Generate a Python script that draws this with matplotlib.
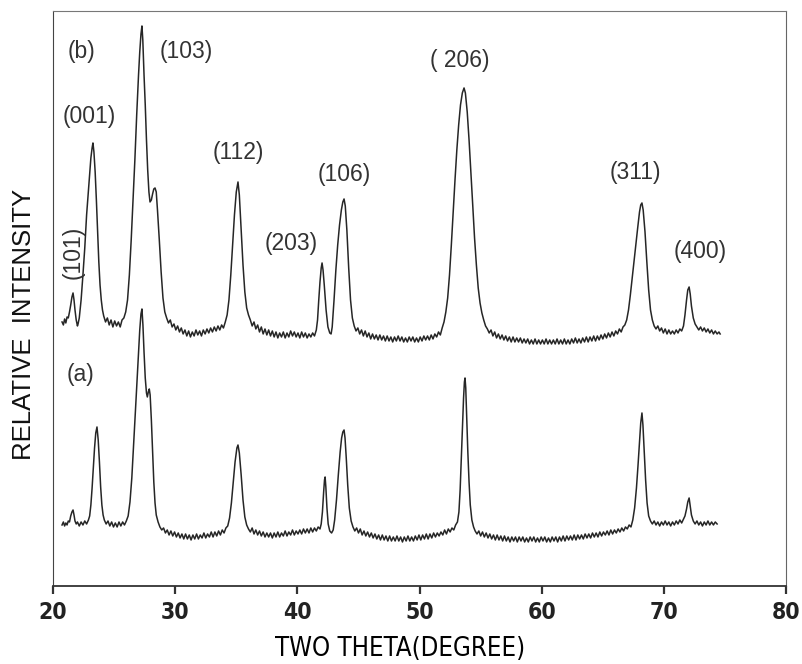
"""XRD patterns (a) and (b) - relative intensity vs two theta."""
import matplotlib
matplotlib.use("Agg")
import matplotlib.pyplot as plt

# ── data (intensity in arbitrary units) ───────────────────────────────────────
tt_b = [20.74, 20.85, 20.95, 21.05, 21.15, 21.25, 21.35, 21.45, 21.55, 21.64, 21.72, 21.8, 21.9, 22.0, 22.05,
        22.15, 22.3, 22.45, 22.6, 22.75, 22.9, 23.0, 23.1, 23.2, 23.27, 23.35, 23.45, 23.55, 23.65, 23.75, 23.85,
        23.95, 24.05, 24.15, 24.3, 24.45, 24.6, 24.75, 24.9, 25.05, 25.2, 25.35, 25.5, 25.65, 25.8, 25.95,
        26.1, 26.25, 26.4, 26.55, 26.7, 26.85, 27.0, 27.1, 27.2, 27.28, 27.35, 27.45, 27.55, 27.65, 27.75,
        27.85, 27.94, 28.05, 28.15, 28.25, 28.35, 28.45, 28.55, 28.7, 28.85, 29.0, 29.15, 29.3,
        29.45, 29.6, 29.75, 29.9, 30.05, 30.2, 30.35, 30.5, 30.65, 30.8, 30.95, 31.1, 31.25, 31.4, 31.55, 31.7,
        31.85, 32.0, 32.15, 32.3, 32.45, 32.6, 32.75, 32.9, 33.05, 33.2, 33.35, 33.5, 33.65, 33.8, 33.95, 34.1,
        34.25, 34.4, 34.55, 34.7, 34.85, 35.0, 35.14, 35.25, 35.4, 35.55, 35.7, 35.85, 36.0,
        36.15, 36.3, 36.45, 36.6, 36.75, 36.9, 37.05, 37.2, 37.35, 37.5, 37.65, 37.8, 37.95, 38.1, 38.25, 38.4,
        38.55, 38.7, 38.85, 39.0, 39.15, 39.3, 39.45, 39.6, 39.75, 39.9, 40.05, 40.2, 40.35, 40.5, 40.65, 40.8,
        40.95, 41.1, 41.25, 41.4, 41.55, 41.65, 41.75, 41.85, 41.95, 42.02, 42.1, 42.2, 42.35, 42.5, 42.65,
        42.76, 42.85, 43.0, 43.15, 43.3, 43.45, 43.6, 43.72, 43.82, 43.92, 44.05, 44.2, 44.35, 44.5, 44.65,
        44.8, 44.95, 45.1, 45.25, 45.4, 45.55, 45.7, 45.85, 46.0, 46.15, 46.3, 46.45, 46.6, 46.75, 46.9, 47.05,
        47.2, 47.35, 47.5, 47.65, 47.8, 47.95, 48.1, 48.25, 48.4, 48.55, 48.7, 48.85, 49.0, 49.15, 49.3, 49.45,
        49.6, 49.75, 49.9, 50.05, 50.2, 50.35, 50.5, 50.65, 50.8, 50.95, 51.1, 51.25, 51.4, 51.55, 51.7, 51.85,
        52.0, 52.15, 52.3, 52.45, 52.6, 52.75, 52.9, 53.05, 53.2, 53.35, 53.5, 53.64, 53.75, 53.9, 54.05, 54.2,
        54.35, 54.5, 54.65, 54.8, 54.95, 55.1, 55.25, 55.4, 55.55,
        55.7, 55.85, 56.0, 56.15, 56.3, 56.45, 56.6, 56.75, 56.9, 57.05, 57.2, 57.35, 57.5, 57.65, 57.8, 57.95,
        58.1, 58.25, 58.4, 58.55, 58.7, 58.85, 59.0, 59.15, 59.3, 59.45, 59.6, 59.75, 59.9, 60.05, 60.2, 60.35,
        60.5, 60.65, 60.8, 60.95, 61.1, 61.25, 61.4, 61.55, 61.7, 61.85, 62.0, 62.15, 62.3, 62.45, 62.6, 62.75,
        62.9, 63.05, 63.2, 63.35, 63.5, 63.65, 63.8, 63.95, 64.1, 64.25, 64.4, 64.55, 64.7, 64.85, 65.0, 65.15,
        65.3, 65.45, 65.6, 65.75, 65.9, 66.05, 66.2, 66.35, 66.5, 66.65, 66.8, 66.95, 67.1, 67.25, 67.4, 67.55,
        67.7, 67.85, 68.0, 68.1, 68.2, 68.3, 68.45, 68.6, 68.75, 68.9, 69.05, 69.2, 69.35, 69.5, 69.65, 69.8,
        69.95, 70.1, 70.25, 70.4, 70.55, 70.7, 70.85, 71.0, 71.15, 71.3, 71.45, 71.6, 71.72, 71.85, 71.95, 72.06,
        72.15, 72.25, 72.4, 72.55, 72.7, 72.85, 73.0, 73.15, 73.3, 73.45, 73.6, 73.75, 73.9, 74.05, 74.2, 74.35,
        74.5, 74.6]
int_b = [264, 261, 267, 263, 269, 268, 274, 281, 289, 293, 286, 276, 266, 260, 262,
         268, 286, 311, 338, 371, 396, 414, 428, 438, 443, 434, 414, 386, 354, 324, 301,
         286, 276, 270, 264, 268, 261, 266, 259, 265, 260, 264, 259, 266, 268, 274,
         286, 311, 346, 386, 426, 471, 511, 534, 552, 560, 546, 511, 481, 446, 416,
         394, 384, 386, 392, 397, 398, 394, 376, 346, 314, 288, 274, 268,
         263, 266, 259, 262, 256, 260, 254, 258, 252, 256, 250, 255, 249, 254, 250, 256,
         251, 255, 250, 256, 252, 257, 253, 258, 254, 259, 255, 260, 256, 261, 258, 264,
         271, 286, 311, 341, 371, 394, 404, 391, 356, 321, 294, 278, 271,
         266, 260, 264, 257, 261, 254, 259, 252, 257, 251, 256, 250, 255, 249, 254, 248,
         253, 249, 254, 248, 253, 249, 255, 250, 254, 249, 253, 248, 254, 249, 253, 248,
         252, 249, 253, 250, 256, 266, 286, 304, 318, 323, 316, 301, 276, 259, 253,
         252, 259, 286, 316, 341, 361, 376, 384, 387, 380, 356, 318, 286, 268, 260,
         255, 258, 252, 256, 250, 255, 249, 253, 247, 252, 247, 251, 246, 251, 246, 250,
         245, 250, 245, 249, 244, 249, 245, 250, 245, 249, 244, 248, 244, 249, 245, 249,
         244, 248, 244, 249, 245, 250, 246, 250, 246, 251, 247, 252, 249, 254, 251, 258,
         264, 274, 288, 311, 341, 374, 406, 436, 461, 481, 493, 498, 493, 474, 446, 414,
         381, 348, 321, 298, 283, 273, 266, 260, 257,
         253, 256, 250, 254, 248, 252, 247, 251, 246, 250, 245, 249, 244, 249, 244, 248,
         244, 248, 243, 247, 243, 247, 242, 246, 242, 247, 242, 246, 242, 246, 242, 247,
         242, 246, 242, 246, 242, 247, 242, 246, 242, 247, 242, 246, 242, 247, 243, 248,
         243, 247, 243, 248, 244, 249, 244, 249, 245, 250, 245, 250, 246, 251, 247, 252,
         248, 253, 249, 254, 250, 255, 252, 257, 254, 259, 261, 266, 276, 291, 308, 324,
         341, 358, 374, 381, 383, 376, 354, 324, 296, 276, 266, 260, 257, 260, 255, 258,
         253, 257, 252, 256, 252, 255, 252, 256, 253, 257, 255, 260, 271, 286, 296, 299,
         292, 280, 268, 262, 259, 256, 259, 255, 258, 254, 257, 253, 256, 252, 255, 252,
         254, 252]

tt_a = [20.74, 20.85, 20.95, 21.05, 21.15, 21.25, 21.35, 21.45, 21.55, 21.64, 21.72, 21.8, 21.9, 22.0, 22.15,
        22.3, 22.45, 22.6, 22.75, 22.9, 23.0, 23.1, 23.2, 23.3, 23.4, 23.5, 23.6, 23.7, 23.8, 23.9, 24.0, 24.1,
        24.2, 24.35, 24.5, 24.65, 24.8, 24.95, 25.1, 25.25, 25.4, 25.55, 25.7, 25.85, 26.0, 26.15, 26.3, 26.45,
        26.6, 26.75, 26.9, 27.0, 27.1, 27.2, 27.28, 27.36, 27.45, 27.55, 27.65, 27.72, 27.8, 27.88, 27.95, 28.05,
        28.15, 28.25, 28.35, 28.45, 28.6, 28.75,
        28.9, 29.05, 29.2, 29.35, 29.5, 29.65, 29.8, 29.95, 30.1, 30.25, 30.4, 30.55, 30.7, 30.85, 31.0, 31.15,
        31.3, 31.45, 31.6, 31.75, 31.9, 32.05, 32.2, 32.35, 32.5, 32.65, 32.8, 32.95, 33.1, 33.25, 33.4, 33.55,
        33.7, 33.85, 34.0, 34.15, 34.3, 34.45, 34.6, 34.75, 34.9, 35.05, 35.14, 35.25, 35.4, 35.55, 35.7, 35.85,
        36.0, 36.15, 36.3, 36.45, 36.6, 36.75, 36.9, 37.05, 37.2, 37.35, 37.5, 37.65, 37.8, 37.95, 38.1, 38.25,
        38.4, 38.55, 38.7, 38.85, 39.0, 39.15, 39.3, 39.45, 39.6, 39.75, 39.9, 40.05, 40.2, 40.35, 40.5, 40.65,
        40.8, 40.95, 41.1, 41.25, 41.4, 41.55, 41.7, 41.85, 41.95, 42.05, 42.15, 42.22, 42.27, 42.33, 42.42,
        42.52, 42.65, 42.8, 42.93, 43.05, 43.2, 43.35, 43.5, 43.62, 43.72, 43.82, 43.9, 44.0, 44.12, 44.25, 44.4,
        44.55, 44.7, 44.85, 45.0, 45.15, 45.3, 45.45, 45.6, 45.75, 45.9, 46.05, 46.2, 46.35, 46.5, 46.65, 46.8,
        46.95, 47.1, 47.25, 47.4, 47.55, 47.7, 47.85, 48.0, 48.15, 48.3, 48.45, 48.6, 48.75, 48.9, 49.05, 49.2,
        49.35, 49.5, 49.65, 49.8, 49.95, 50.1, 50.25, 50.4, 50.55, 50.7, 50.85, 51.0, 51.15, 51.3, 51.45, 51.6,
        51.75, 51.9, 52.05, 52.2, 52.35, 52.5, 52.65, 52.8, 52.95, 53.1, 53.22, 53.32, 53.42, 53.52, 53.6, 53.67,
        53.72, 53.78, 53.86, 53.95, 54.05, 54.15, 54.28, 54.42, 54.55,
        54.7, 54.85, 55.0, 55.15, 55.3, 55.45, 55.6, 55.75, 55.9, 56.05, 56.2, 56.35, 56.5, 56.65, 56.8, 56.95,
        57.1, 57.25, 57.4, 57.55, 57.7, 57.85, 58.0, 58.15, 58.3, 58.45, 58.6, 58.75, 58.9, 59.05, 59.2, 59.35,
        59.5, 59.65, 59.8, 59.95, 60.1, 60.25, 60.4, 60.55, 60.7, 60.85, 61.0, 61.15, 61.3, 61.45, 61.6, 61.75,
        61.9, 62.05, 62.2, 62.35, 62.5, 62.65, 62.8, 62.95, 63.1, 63.25, 63.4, 63.55, 63.7, 63.85, 64.0, 64.15,
        64.3, 64.45, 64.6, 64.75, 64.9, 65.05, 65.2, 65.35, 65.5, 65.65, 65.8, 65.95, 66.1, 66.25, 66.4, 66.55,
        66.7, 66.85, 67.0, 67.15, 67.3, 67.45, 67.6, 67.75, 67.88, 68.0, 68.1, 68.2, 68.28, 68.38, 68.5, 68.62,
        68.75, 68.9, 69.05, 69.2, 69.35, 69.5, 69.65, 69.8, 69.95, 70.1, 70.25, 70.4, 70.55, 70.7, 70.85, 71.0,
        71.15, 71.3, 71.45, 71.6, 71.72, 71.85, 71.95, 72.06, 72.15, 72.25, 72.4, 72.55, 72.7, 72.85, 73.0, 73.15,
        73.3, 73.45, 73.6, 73.75, 73.9, 74.05, 74.2, 74.35]
int_a = [61, 64, 60, 63, 61, 65, 64, 70, 74, 76, 71, 65, 62, 64, 60,
         64, 61, 65, 62, 66, 70, 81, 98, 118, 138, 153, 159, 146, 124, 99, 81, 71,
         66, 62, 65, 60, 64, 59, 63, 59, 64, 60, 64, 61, 65, 70, 84, 108,
         141, 176, 211, 236, 256, 272, 277, 261, 234, 208, 193, 189, 194, 197, 191, 166,
         134, 104, 83, 71, 64, 59,
         56, 58, 53, 56, 51, 55, 50, 54, 49, 53, 48, 52, 47, 52, 47, 51,
         46, 51, 47, 52, 47, 51, 48, 53, 48, 52, 49, 54, 49, 54, 50, 55,
         51, 56, 53, 58, 60, 68, 83, 104, 124, 138, 141, 133, 111, 86, 69, 61,
         57, 54, 58, 52, 56, 51, 55, 50, 54, 49, 53, 49, 53, 48, 53, 49,
         54, 49, 53, 50, 55, 50, 54, 51, 56, 51, 55, 52, 56, 52, 57, 53,
         57, 53, 58, 54, 58, 55, 59, 57, 62, 74, 94, 106, 109, 99, 78,
         62, 55, 53, 56, 66, 86, 111, 134, 148, 154, 156, 148, 128, 101, 78, 65,
         59, 55, 58, 53, 57, 51, 55, 50, 54, 49, 53, 48, 52, 47, 51, 46,
         51, 46, 50, 45, 50, 45, 49, 45, 50, 45, 49, 44, 49, 45, 50, 45,
         49, 45, 50, 46, 51, 46, 51, 47, 52, 47, 52, 48, 53, 49, 53, 50,
         54, 51, 56, 52, 57, 54, 58, 56, 61, 64, 74, 96, 128, 161, 188, 204,
         208, 198, 168, 134, 104, 81, 66, 59, 55,
         52, 55, 50, 54, 49, 53, 48, 52, 47, 51, 46, 51, 46, 50, 45, 50,
         45, 49, 44, 49, 45, 49, 44, 49, 45, 49, 44, 48, 44, 49, 45, 49,
         44, 48, 44, 49, 45, 49, 44, 48, 44, 49, 45, 49, 44, 49, 45, 50,
         45, 50, 46, 50, 46, 51, 46, 51, 47, 51, 47, 52, 48, 52, 48, 53,
         49, 53, 49, 54, 50, 54, 51, 55, 51, 56, 52, 56, 53, 57, 54, 58,
         55, 59, 57, 61, 59, 66, 78, 98, 121, 144, 163, 173, 161, 136, 106, 83,
         70, 65, 62, 65, 61, 64, 60, 64, 61, 65, 61, 64, 60, 64, 61, 65,
         62, 66, 63, 67, 70, 77, 84, 88, 80, 71, 65, 62, 65, 61, 64, 60,
         64, 61, 65, 61, 64, 61, 64, 62]

peak_labels = ["(b)", "(103)", "(001)", "(112)", "(203)", "(106)", "( 206)", "(311)", "(400)", "(a)"]
label_tt    = [22.35, 30.9, 22.95, 35.2, 39.5, 43.8, 53.3, 67.7, 72.95, 22.25]
label_int   = [534, 534, 469, 433, 342, 411, 525, 413, 334, 211]
xticks = [20, 30, 40, 50, 60, 70, 80]

# ── figure ────────────────────────────────────────────────────────────────────
INK  = "#262626"
TEXT = "#333333"
NARROW = ["Liberation Sans Narrow", "DejaVu Sans"]

fig = plt.figure(figsize=(8.03, 6.64), dpi=100, facecolor="white")
ax = fig.add_axes([0.066, 0.1175, 0.913, 0.866])

ax.plot(tt_b, int_b, color=INK, linewidth=1.1)
ax.plot(tt_a, int_a, color=INK, linewidth=1.1)

for lab, x, y in zip(peak_labels, label_tt, label_int):
    ax.text(x, y, lab, ha="center", va="center", fontsize=16.5,
            color=TEXT, family="Liberation Sans")
ax.text(21.64, 334, "(101)", rotation=90, ha="center", va="center",
        fontsize=16.5, color=TEXT, family="Liberation Sans")

# ── axes ─────────────────────────────────────────────────────────────────────
ax.set_xlim(20, 80)
ax.set_ylim(0, 575)
ax.set_xticks(xticks)
ax.set_xticklabels([str(t) for t in xticks], fontsize=16.5, fontweight="bold",
                   family=NARROW, fontstretch="condensed", color="#222222")
ax.set_yticks([])
ax.tick_params(axis="x", direction="out", length=6, width=1.6, color="#333333", pad=5)

ax.spines["left"].set_color("#444444")
ax.spines["bottom"].set_color("#333333")
ax.spines["bottom"].set_linewidth(1.3)
ax.spines["top"].set_color("#777777")
ax.spines["right"].set_color("#666666")

ax.set_xlabel("TWO THETA(DEGREE)", fontsize=18.5, family=NARROW,
              fontstretch="condensed", fontweight="medium", color="#000000")
ax.xaxis.set_label_coords(0.473, -0.087)
ax.set_ylabel("RELATIVE  INTENSITY", fontsize=18.5, color="#111111",
              family="Liberation Sans")
ax.yaxis.set_label_coords(-0.023, 0.454)

plt.savefig("out.png", dpi=100, facecolor="white")
plt.close()
